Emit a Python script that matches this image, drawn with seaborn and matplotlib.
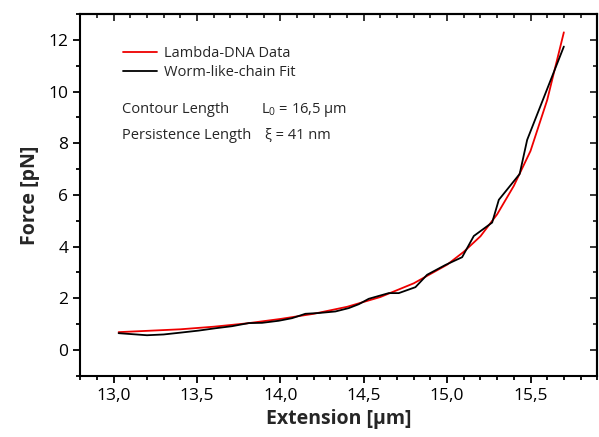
import numpy as np
import pandas as pd
import seaborn as sns
import matplotlib
matplotlib.use("Agg")
import matplotlib.pyplot as plt
from matplotlib.ticker import MultipleLocator, FuncFormatter

# red curve (smooth)
data_ext = [13.03, 13.2, 13.4, 13.6, 13.8, 14.0, 14.2, 14.4, 14.6, 14.8,
            15.0, 15.1, 15.2, 15.3, 15.4, 15.5, 15.6, 15.7]
data_force = [0.69, 0.74, 0.80, 0.90, 1.03, 1.20, 1.40, 1.67, 2.05, 2.58,
              3.30, 3.80, 4.40, 5.25, 6.35, 7.70, 9.67, 12.29]

# black curve (jagged)
fit_ext = [13.03, 13.2, 13.3, 13.4, 13.51, 13.61, 13.71, 13.81, 13.89, 13.99,
           14.07, 14.15, 14.23, 14.33, 14.41, 14.47, 14.53, 14.65, 14.71,
           14.81, 14.88, 14.99, 15.09, 15.16, 15.27, 15.31, 15.435, 15.48, 15.7]
fit_force = [0.65, 0.57, 0.60, 0.67, 0.75, 0.84, 0.92, 1.04, 1.05, 1.13,
             1.23, 1.40, 1.43, 1.49, 1.62, 1.77, 1.98, 2.20, 2.20,
             2.43, 2.91, 3.29, 3.59, 4.41, 4.93, 5.81, 6.81, 8.13, 11.74]

sns.set_style("white")
plt.rcParams['font.family'] = ['Open Sans', 'DejaVu Sans']
plt.rcParams['mathtext.fontset'] = 'custom'
plt.rcParams['mathtext.rm'] = 'Open Sans'

fig = plt.figure(figsize=(5.99, 4.37), dpi=100)
ax = fig.add_subplot(111)
fig.subplots_adjust(left=0.134, right=0.997, top=0.968, bottom=0.14)

red = pd.DataFrame({'x': data_ext, 'y': data_force})
blk = pd.DataFrame({'x': fit_ext, 'y': fit_force})
sns.lineplot(data=red, x='x', y='y', color='#ee0000', lw=1.3, ax=ax,
             label='Lambda-DNA Data')
sns.lineplot(data=blk, x='x', y='y', color='black', lw=1.3, ax=ax,
             label='Worm-like-chain Fit')

ax.set_xlim(12.8, 15.9)
ax.set_ylim(-1, 13)
ax.xaxis.set_major_locator(MultipleLocator(0.5))
ax.xaxis.set_minor_locator(MultipleLocator(0.1))
ax.yaxis.set_major_locator(MultipleLocator(2))
ax.yaxis.set_minor_locator(MultipleLocator(1))
ax.xaxis.set_major_formatter(FuncFormatter(lambda v, p: f"{v:.1f}".replace('.', ',')))
ax.yaxis.set_major_formatter(FuncFormatter(lambda v, p: f"{v:.0f}"))

for s in ax.spines.values():
    s.set_linewidth(1.5)
    s.set_color('black')
ax.tick_params(which='both', direction='out', width=1.3, colors='black',
               labelsize=12.5, bottom=True, left=True)
ax.tick_params(which='major', length=5)
ax.tick_params(which='minor', length=3)

# mirrored ticks pointing inward on top and right
top = ax.secondary_xaxis('top')
top.xaxis.set_major_locator(MultipleLocator(0.5))
top.xaxis.set_minor_locator(MultipleLocator(0.1))
top.tick_params(which='both', direction='in', width=1.3, labeltop=False)
top.tick_params(which='major', length=5)
top.tick_params(which='minor', length=3)
top.spines['top'].set_linewidth(1.5)
right = ax.secondary_yaxis('right')
right.yaxis.set_major_locator(MultipleLocator(2))
right.yaxis.set_minor_locator(MultipleLocator(1))
right.tick_params(which='both', direction='in', width=1.3, labelright=False)
right.tick_params(which='major', length=5)
right.tick_params(which='minor', length=3)
right.spines['right'].set_linewidth(1.5)

ax.set_xlabel('Extension [µm]', fontsize=14, fontweight='bold', labelpad=4)
ax.set_ylabel('Force [pN]', fontsize=14, fontweight='bold', labelpad=6)

ax.legend(loc='upper left', bbox_to_anchor=(0.072, 0.927), frameon=False,
          fontsize=10.5, handlelength=2.3, handletextpad=0.5,
          labelspacing=0.25, borderaxespad=0)

ax.text(0.081, 0.735, 'Contour Length', transform=ax.transAxes, fontsize=10.5,
        va='center')
ax.text(0.350, 0.735, r'L$_\mathregular{0}$ = 16,5 µm', transform=ax.transAxes,
        fontsize=10.5, va='center')
ax.text(0.081, 0.665, 'Persistence Length', transform=ax.transAxes,
        fontsize=10.5, va='center')
ax.text(0.357, 0.665, 'ξ = 41 nm', transform=ax.transAxes, fontsize=10.5,
        va='center')

fig.savefig('out.png', dpi=100)
